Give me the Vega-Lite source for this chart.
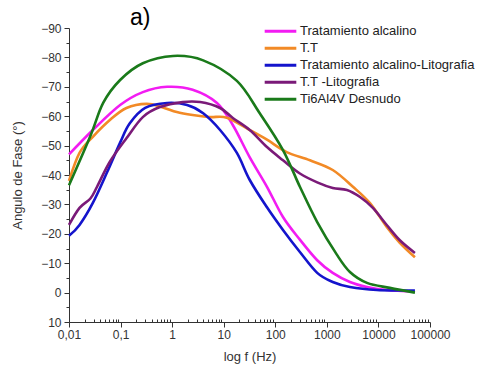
{
  "$schema": "https://vega.github.io/schema/vega-lite/v6.json",
  "width": 361,
  "height": 294,
  "autosize": {"type": "none"},
  "padding": {"left": 69, "top": 28, "right": 52, "bottom": 48},
  "background": "white",
  "config": {
    "view": {"stroke": null},
    "font": "Liberation Sans",
    "axis": {"grid": false, "domainColor": "#333", "tickColor": "#333", "labelColor": "#333", "titleColor": "#333", "labelFont": "Liberation Sans", "titleFont": "Liberation Sans", "labelFontSize": 12, "titleFontSize": 13, "titleFontWeight": "normal"}
  },
  "title": {"text": "a)", "fontSize": 23, "fontWeight": "normal", "font": "Liberation Sans", "color": "#000", "anchor": "start", "frame": "group", "offset": 0, "dx": 61, "dy": 8},
  "resolve": {"axis": {"x": "independent", "y": "independent"}},
  "data": {"values": [
    {"s": "Tratamiento alcalino", "f": 0.01, "v": -47},
    {"s": "Tratamiento alcalino", "f": 0.029, "v": -55.3},
    {"s": "Tratamiento alcalino", "f": 0.098, "v": -63.8},
    {"s": "Tratamiento alcalino", "f": 0.27, "v": -68.2},
    {"s": "Tratamiento alcalino", "f": 0.8, "v": -70},
    {"s": "Tratamiento alcalino", "f": 2.5, "v": -69},
    {"s": "Tratamiento alcalino", "f": 7.4, "v": -64.5},
    {"s": "Tratamiento alcalino", "f": 15, "v": -57},
    {"s": "Tratamiento alcalino", "f": 32, "v": -46},
    {"s": "Tratamiento alcalino", "f": 69, "v": -36},
    {"s": "Tratamiento alcalino", "f": 141, "v": -25.7},
    {"s": "Tratamiento alcalino", "f": 300, "v": -18},
    {"s": "Tratamiento alcalino", "f": 650, "v": -11},
    {"s": "Tratamiento alcalino", "f": 1300, "v": -6.7},
    {"s": "Tratamiento alcalino", "f": 2800, "v": -3.6},
    {"s": "Tratamiento alcalino", "f": 6000, "v": -1.9},
    {"s": "Tratamiento alcalino", "f": 14500, "v": -0.9},
    {"s": "Tratamiento alcalino", "f": 51000, "v": -0.3},
    {"s": "T.T", "f": 0.01, "v": -38},
    {"s": "T.T", "f": 0.016, "v": -47.5},
    {"s": "T.T", "f": 0.029, "v": -53},
    {"s": "T.T", "f": 0.062, "v": -58.7},
    {"s": "T.T", "f": 0.13, "v": -62.8},
    {"s": "T.T", "f": 0.32, "v": -64.2},
    {"s": "T.T", "f": 0.66, "v": -63},
    {"s": "T.T", "f": 1.23, "v": -61.4},
    {"s": "T.T", "f": 2.5, "v": -60.4},
    {"s": "T.T", "f": 5.4, "v": -59.7},
    {"s": "T.T", "f": 11.5, "v": -59.5},
    {"s": "T.T", "f": 32, "v": -55.3},
    {"s": "T.T", "f": 69, "v": -52},
    {"s": "T.T", "f": 166, "v": -47.8},
    {"s": "T.T", "f": 470, "v": -45},
    {"s": "T.T", "f": 1300, "v": -41.7},
    {"s": "T.T", "f": 3200, "v": -36},
    {"s": "T.T", "f": 6800, "v": -30.5},
    {"s": "T.T", "f": 14500, "v": -22.3},
    {"s": "T.T", "f": 25700, "v": -17},
    {"s": "T.T", "f": 51000, "v": -12},
    {"s": "Tratamiento alcalino-Litografia", "f": 0.01, "v": -19.3},
    {"s": "Tratamiento alcalino-Litografia", "f": 0.016, "v": -23},
    {"s": "Tratamiento alcalino-Litografia", "f": 0.029, "v": -30.5},
    {"s": "Tratamiento alcalino-Litografia", "f": 0.055, "v": -41},
    {"s": "Tratamiento alcalino-Litografia", "f": 0.098, "v": -51},
    {"s": "Tratamiento alcalino-Litografia", "f": 0.15, "v": -57.5},
    {"s": "Tratamiento alcalino-Litografia", "f": 0.3, "v": -62.8},
    {"s": "Tratamiento alcalino-Litografia", "f": 0.8, "v": -64.5},
    {"s": "Tratamiento alcalino-Litografia", "f": 1.95, "v": -63.8},
    {"s": "Tratamiento alcalino-Litografia", "f": 4, "v": -61},
    {"s": "Tratamiento alcalino-Litografia", "f": 8.5, "v": -55.3},
    {"s": "Tratamiento alcalino-Litografia", "f": 18, "v": -47.5},
    {"s": "Tratamiento alcalino-Litografia", "f": 32, "v": -38.3},
    {"s": "Tratamiento alcalino-Litografia", "f": 69, "v": -29},
    {"s": "Tratamiento alcalino-Litografia", "f": 141, "v": -21.3},
    {"s": "Tratamiento alcalino-Litografia", "f": 300, "v": -13.8},
    {"s": "Tratamiento alcalino-Litografia", "f": 650, "v": -6.7},
    {"s": "Tratamiento alcalino-Litografia", "f": 1300, "v": -3.6},
    {"s": "Tratamiento alcalino-Litografia", "f": 2800, "v": -1.9},
    {"s": "Tratamiento alcalino-Litografia", "f": 9300, "v": -0.9},
    {"s": "Tratamiento alcalino-Litografia", "f": 51000, "v": -0.7},
    {"s": "T.T -Litografia", "f": 0.01, "v": -23},
    {"s": "T.T -Litografia", "f": 0.016, "v": -28.8},
    {"s": "T.T -Litografia", "f": 0.026, "v": -32},
    {"s": "T.T -Litografia", "f": 0.035, "v": -36},
    {"s": "T.T -Litografia", "f": 0.062, "v": -44.5},
    {"s": "T.T -Litografia", "f": 0.13, "v": -52.5},
    {"s": "T.T -Litografia", "f": 0.27, "v": -59.7},
    {"s": "T.T -Litografia", "f": 0.58, "v": -63.1},
    {"s": "T.T -Litografia", "f": 1.6, "v": -64.8},
    {"s": "T.T -Litografia", "f": 3.5, "v": -64.8},
    {"s": "T.T -Litografia", "f": 8.5, "v": -62.8},
    {"s": "T.T -Litografia", "f": 15, "v": -59.4},
    {"s": "T.T -Litografia", "f": 32, "v": -55.3},
    {"s": "T.T -Litografia", "f": 69, "v": -49.5},
    {"s": "T.T -Litografia", "f": 141, "v": -45},
    {"s": "T.T -Litografia", "f": 300, "v": -40.5},
    {"s": "T.T -Litografia", "f": 650, "v": -37.5},
    {"s": "T.T -Litografia", "f": 1300, "v": -35.6},
    {"s": "T.T -Litografia", "f": 2450, "v": -34.9},
    {"s": "T.T -Litografia", "f": 4400, "v": -32.5},
    {"s": "T.T -Litografia", "f": 7800, "v": -28.8},
    {"s": "T.T -Litografia", "f": 14500, "v": -23},
    {"s": "T.T -Litografia", "f": 25700, "v": -17.9},
    {"s": "T.T -Litografia", "f": 51000, "v": -13.5},
    {"s": "Ti6Al4V Desnudo", "f": 0.01, "v": -36.5},
    {"s": "Ti6Al4V Desnudo", "f": 0.0256, "v": -53},
    {"s": "Ti6Al4V Desnudo", "f": 0.046, "v": -64.5},
    {"s": "Ti6Al4V Desnudo", "f": 0.098, "v": -72.3},
    {"s": "Ti6Al4V Desnudo", "f": 0.27, "v": -78},
    {"s": "Ti6Al4V Desnudo", "f": 1.04, "v": -80.5},
    {"s": "Ti6Al4V Desnudo", "f": 4, "v": -79},
    {"s": "Ti6Al4V Desnudo", "f": 18, "v": -72},
    {"s": "Ti6Al4V Desnudo", "f": 50, "v": -61},
    {"s": "Ti6Al4V Desnudo", "f": 141, "v": -48.5},
    {"s": "Ti6Al4V Desnudo", "f": 300, "v": -36},
    {"s": "Ti6Al4V Desnudo", "f": 650, "v": -24},
    {"s": "Ti6Al4V Desnudo", "f": 1550, "v": -13},
    {"s": "Ti6Al4V Desnudo", "f": 2800, "v": -7},
    {"s": "Ti6Al4V Desnudo", "f": 6000, "v": -3.3},
    {"s": "Ti6Al4V Desnudo", "f": 16600, "v": -1.6},
    {"s": "Ti6Al4V Desnudo", "f": 51000, "v": 0}
  ]},
  "layer": [
    {
      "mark": {"type": "line", "opacity": 0},
      "encoding": {
        "x": {"field": "f", "type": "quantitative",
              "scale": {"type": "log", "domain": [0.01, 100000]},
              "axis": {"orient": "bottom", "values": [0.02,0.03,0.04,0.05,0.06,0.07,0.08,0.09,0.2,0.3,0.4,0.5,0.6,0.7,0.8,0.9,2,3,4,5,6,7,8,9,20,30,40,50,60,70,80,90,200,300,400,500,600,700,800,900,2000,3000,4000,5000,6000,7000,8000,9000,20000,30000,40000,50000,60000,70000,80000,90000],
                       "labels": false, "domain": false, "tickSize": -3, "title": null}},
        "y": {"field": "v", "type": "quantitative",
              "scale": {"domain": [-90, 10], "reverse": true, "nice": false, "zero": false},
              "axis": {"orient": "left", "values": [-85, -75, -65, -55, -45, -35, -25, -15, -5, 5],
                       "labels": false, "domain": false, "tickSize": 3, "title": null}}
      }
    },
    {
      "mark": {"type": "line", "interpolate": "cardinal", "strokeWidth": 2.6},
      "encoding": {
        "x": {"field": "f", "type": "quantitative",
              "axis": {"orient": "bottom", "values": [0.01, 0.1, 1, 10, 100, 1000, 10000, 100000],
                       "labelExpr": "datum.value < 1 ? replace(format(datum.value, '~g'), '.', ',') : format(datum.value, 'd')",
                       "tickSize": 5, "labelPadding": 2, "title": "log f (Hz)", "titlePadding": 10, "labelFlush": false}},
        "y": {"field": "v", "type": "quantitative",
              "axis": {"orient": "left", "values": [-90, -80, -70, -60, -50, -40, -30, -20, -10, 0, 10],
                       "tickSize": 5, "labelPadding": 3, "title": "Angulo de Fase (°)", "titlePadding": 16}},
        "color": {"field": "s", "type": "nominal",
                  "scale": {"domain": ["Tratamiento alcalino", "T.T", "Tratamiento alcalino-Litografia", "T.T -Litografia", "Ti6Al4V Desnudo"],
                            "range": ["#f21cf2", "#f28a26", "#1414cc", "#7a1a78", "#1a7a1a"]},
                  "legend": {"orient": "none", "legendX": 194, "legendY": -4, "title": null,
                             "symbolType": "stroke", "symbolSize": 1000, "symbolStrokeWidth": 3,
                             "clipHeight": 14.5, "labelLimit": 0,
                             "labelFontSize": 13, "labelFont": "Liberation Sans", "labelColor": "#222",
                             "labelOffset": 2, "rowPadding": 2, "symbolOffset": 0}}
      }
    }
  ]
}
